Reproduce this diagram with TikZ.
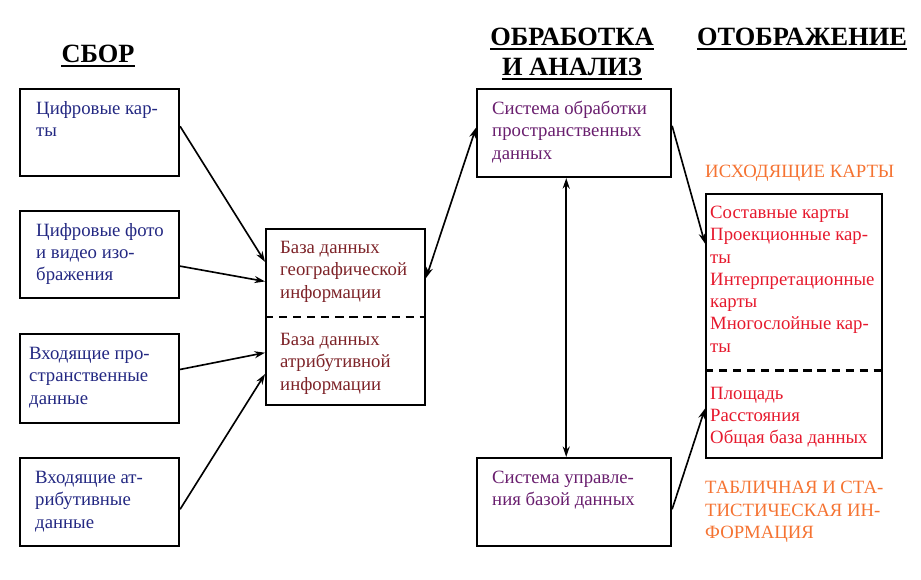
\documentclass[tikz,border=0pt]{standalone}
\usepackage{fontspec}
\setmainfont{Liberation Serif}
\usepackage{tikz}
\usetikzlibrary{calc,arrows.meta}
\definecolor{input_text}{RGB}{35, 40, 130}
\definecolor{base_text}{RGB}{125, 35, 40}
\definecolor{system_text}{RGB}{105, 30, 110}
\definecolor{output_text}{RGB}{230, 25, 45}
\definecolor{output_label}{RGB}{245, 115, 50}

\begin{document}
\begin{tikzpicture}[x=0.03cm, y=-0.03cm,
  box/.style={draw, line width=1.8pt, inner sep=0pt, anchor=north west},
  txt/.style={anchor=north west, inner sep=0pt, align=left, font=\fontsize{16}{19}\selectfont},
  title/.style={inner sep=0pt, anchor=base, font=\fontsize{22.5}{25.6}\selectfont\bfseries},
  underline/.style={line width=2.2pt},
  link/.style={line width=1.4pt, -{Stealth[length=9pt,width=6pt]}},
  twoway/.style={line width=1.4pt, {Stealth[length=9pt,width=6pt]}-{Stealth[length=9pt,width=6pt]}},
  divider/.style={line width=1.8pt, dash pattern=on 7pt off 5pt}]
\useasboundingbox (0,0) rectangle (921,579);

% titles
\node[title] (collect) at (98,62) {СБОР};
\node[title] (process) at (572,45) {ОБРАБОТКА};
\node[title] (analysis) at (572,75) {И АНАЛИЗ};
\node[title] (display) at (802,45) {ОТОБРАЖЕНИЕ};
\foreach \t in {collect, process, analysis, display}
  \draw[underline] ([shift={(0,4)}]\t.base west) -- ([shift={(0,4)}]\t.base east);

% collection boxes
\node[box, minimum width=4.77cm, minimum height=2.61cm] (maps) at (19,88) {};
\node[box, minimum width=4.77cm, minimum height=2.61cm] (photo) at (19,210) {};
\node[box, minimum width=4.77cm, minimum height=2.67cm] (spatial) at (19,333) {};
\node[box, minimum width=4.77cm, minimum height=2.64cm] (attrib) at (19,457) {};
\node[txt, input_text] (maps_t) at ([shift={(17,13)}]maps.north west) {Цифровые кар-\\ты};
\node[txt, input_text] (photo_t) at ([shift={(17,13)}]photo.north west) {Цифровые фото\\и видео изо-\\бражения};
\node[txt, input_text] (spatial_t) at ([shift={(10,14)}]spatial.north west) {Входящие про-\\странственные\\данные};
\node[txt, input_text] (attrib_t) at ([shift={(16,14)}]attrib.north west) {Входящие ат-\\рибутивные\\данные};

% data base
\node[box, minimum width=4.77cm, minimum height=5.28cm] (db) at (265,228) {};
\draw[divider] (db.west) -- (db.east);
\node[txt, base_text] (geo_t) at ([shift={(15,13)}]db.north west) {База данных\\географической\\информации};
\node[txt, base_text] (attr_t) at ([shift={(15,16)}]db.west) {База данных\\атрибутивной\\информации};

% processing
\node[box, minimum width=5.82cm, minimum height=2.64cm] (proc) at (476,88) {};
\node[box, minimum width=5.82cm, minimum height=2.64cm] (dbms) at (476,457) {};
\node[txt, system_text] (proc_t) at ([shift={(16,13)}]proc.north west) {Система обработки\\пространственных\\данных};
\node[txt, system_text] (dbms_t) at ([shift={(16,14)}]dbms.north west) {Система управле-\\ния базой данных};

% display
\node[box, minimum width=5.28cm, minimum height=7.92cm] (out) at (705,193) {};
\coordinate (out_l) at ($(out.north west)!0.667!(out.south west)$);
\coordinate (out_r) at ($(out.north east)!0.667!(out.south east)$);
\draw[divider] (out_l) -- (out_r);
\node[txt, output_text] (maps_out) at ([shift={(5,13)}]out.north west) {Составные карты\\Проекционные кар-\\ты\\Интерпретационные\\карты\\Многослойные кар-\\ты};
\node[txt, output_text] (table_out) at ([shift={(5,16)}]out_l) {Площадь\\Расстояния\\Общая база данных};
\node[txt, output_label, anchor=base west] (maps_lbl) at ([shift={(0,-16)}]out.north west) {ИСХОДЯЩИЕ КАРТЫ};
\node[txt, output_label] (table_lbl) at ([shift={(0,22)}]out.south west) {ТАБЛИЧНАЯ И СТА-\\ТИСТИЧЕСКАЯ ИН-\\ФОРМАЦИЯ};

% connections
\draw[link] ($(maps.north east)!0.43!(maps.south east)$) -- ($(db.north west)!0.19!(db.south west)$);
\draw[link] ($(photo.north east)!0.63!(photo.south east)$) -- ($(db.north west)!0.30!(db.south west)$);
\draw[link] ($(spatial.north east)!0.40!(spatial.south east)$) -- ($(db.north west)!0.70!(db.south west)$);
\draw[link] ($(attrib.north east)!0.58!(attrib.south east)$) -- ($(db.north west)!0.82!(db.south west)$);
\draw[twoway] ($(db.north east)!0.28!(db.south east)$) -- ($(proc.north west)!0.44!(proc.south west)$);
\draw[twoway] ($(proc.south west)!0.46!(proc.south east)$) -- ($(dbms.north west)!0.46!(dbms.north east)$);
\draw[link] ($(proc.north east)!0.42!(proc.south east)$) -- ($(out.north west)!0.19!(out.south west)$);
\draw[link] ($(dbms.north east)!0.58!(dbms.south east)$) -- ($(out.north west)!0.81!(out.south west)$);

\end{tikzpicture}
\end{document}
